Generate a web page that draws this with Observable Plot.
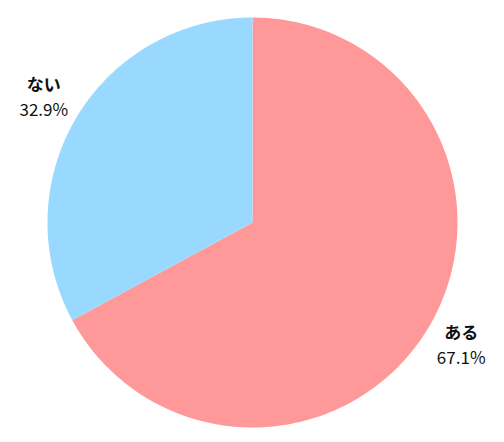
<!DOCTYPE html>
<html><head><meta charset="utf-8">
<script src="https://cdn.jsdelivr.net/npm/d3@7"></script>
<script src="https://cdn.jsdelivr.net/npm/@observablehq/plot@0.6"></script>
<style>body{margin:0;background:#fff;font-family:"Noto Sans CJK JP",sans-serif;}</style>
</head><body><div id="chart"></div>
<script>
const categories = ["ある", "ない"];
const values = [67.1, 32.9];
const labels = ["67.1%", "32.9%"];
const colors = ["#ff9999", "#99d9ff"];

const pie = d3.pie().sort(null).value(d => d.value)(categories.map((c, i) => ({cat: c, value: values[i], label: labels[i]})));
const pts = [];
for (const a of pie) {
  const n = 240;
  pts.push({cat: a.data.cat, x: 0, y: 0});
  for (let k = 0; k <= n; k++) {
    const t = a.startAngle + (a.endAngle - a.startAngle) * k / n;
    pts.push({cat: a.data.cat, x: Math.sin(t), y: Math.cos(t)});
  }
  pts.push({cat: a.data.cat, x: 0, y: 0});
}
const lab = pie.map(a => {
  const m = (a.startAngle + a.endAngle) / 2, r = 1.185;
  return {cat: a.data.cat, label: a.data.label, x: Math.sin(m) * r, y: Math.cos(m) * r};
});

const chart = Plot.plot({
  width: 504, height: 442,
  margin: 0,
  x: {domain: [-1, 1], range: [47, 457], axis: null},
  y: {domain: [-1, 1], range: [427, 17], axis: null},
  color: {domain: categories, range: colors},
  style: {fontFamily: "'Noto Sans CJK JP', sans-serif", background: "#fff"},
  marks: [
    Plot.line(pts, {x: "x", y: "y", z: "cat", fill: "cat", stroke: null, curve: "linear"}),
    Plot.text(lab, {x: "x", y: "y", text: "cat", dy: -13, fontSize: 17, fontWeight: "bold", fill: "#111"}),
    Plot.text(lab, {x: "x", y: "y", text: "label", dy: 12, fontSize: 17, fill: "#111"})
  ]
});
document.getElementById("chart").appendChild(chart);
</script></body></html>
